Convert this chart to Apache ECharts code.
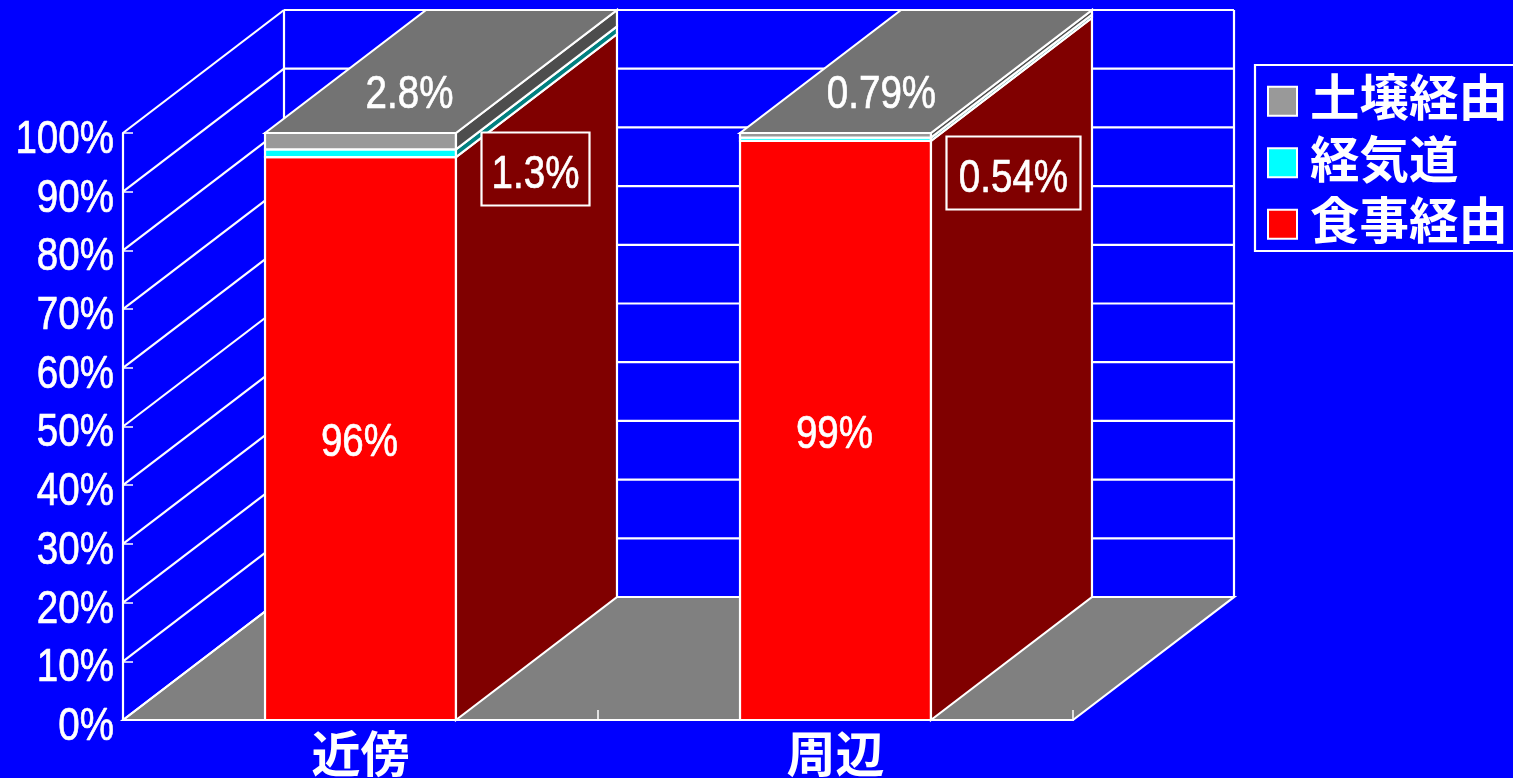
<!DOCTYPE html>
<html>
<head>
<meta charset="utf-8">
<title>経路別寄与率</title>
<style>html,body{margin:0;padding:0;background:#0000ff;overflow:hidden}#chart{width:1513px;height:778px}</style>
<script src="https://cdn.jsdelivr.net/npm/echarts@6/dist/echarts.min.js"></script>
</head>
<body>
<div id="chart"></div>
<script>
// Percent shares per exposure route
const categories = ['近傍', '周辺'];
const dietary = [96, 99];      // 食事経由
const airway = [1.3, 0.54];    // 経気道
const soil = [2.8, 0.79];      // 土壌経由
const yTicks = [0, 10, 20, 30, 40, 50, 60, 70, 80, 90, 100];
const yTickLabels = yTicks.map(v => v + '%');

// Oblique projection used for the pseudo 3D box
const DEPTH_X = 161, DEPTH_Y = -123, BAR_RATIO = 0.402;
const LINE = '#ffffff', LINE_W = 2.2;
const NUM_FONT = '47px "Liberation Sans", Arial, sans-serif';
const NUM_SQUEEZE = 0.82;

// 100% stacking: each bar is normalised to its own total
const totals = categories.map((_, i) => dietary[i] + airway[i] + soil[i]);
function stackRows(values, below) {
  return categories.map((_, i) => {
    const start = below.reduce((s, arr) => s + arr[i], 0);
    return [i, start / totals[i] * 100, (start + values[i]) / totals[i] * 100];
  });
}

function squeezedText(text, x, y, align) {
  return {
    type: 'text', x, y, scaleX: NUM_SQUEEZE, silent: true,
    style: { text, x: 0, y: 0, fill: '#fff', stroke: '#fff', lineWidth: 0.7, font: NUM_FONT, align: align || 'center', verticalAlign: 'middle' }
  };
}

// Back wall, floor and the oblique grid lines
function renderFrame(params, api) {
  const v = api.value(1);
  const sys = params.coordSys;
  const y = api.coord([0, v])[1];
  const left = sys.x, right = sys.x + sys.width;
  const children = [];
  const seg = (x1, y1, x2, y2) => ({
    type: 'line', shape: { x1, y1, x2, y2 }, style: { stroke: LINE, lineWidth: LINE_W }
  });
  if (v === 0) {
    children.push({
      type: 'polygon',
      shape: { points: [[left, y], [left + DEPTH_X, y + DEPTH_Y], [right + DEPTH_X, y + DEPTH_Y], [right, y]] },
      style: { fill: '#808080', stroke: LINE, lineWidth: LINE_W }
    });
  }
  if (v === 100) {
    const floorY = api.coord([0, 0])[1] + DEPTH_Y;
    children.push(seg(left + DEPTH_X, y + DEPTH_Y, left + DEPTH_X, floorY));
    children.push(seg(right + DEPTH_X, y + DEPTH_Y, right + DEPTH_X, floorY));
  }
  children.push(seg(left, y, left + DEPTH_X, y + DEPTH_Y));
  children.push(seg(left + DEPTH_X, y + DEPTH_Y, right + DEPTH_X, y + DEPTH_Y));
  return { type: 'group', children };
}

// Axis text sits in front of the frame, so it is drawn in a later pass
function renderTickLabel(params, api) {
  const y = api.coord([0, api.value(1)])[1];
  return squeezedText(yTickLabels[params.dataIndex], params.coordSys.x - 9, y + 7, 'right');
}

function renderSegment(shades) {
  return function (params, api) {
    const i = api.value(0);
    const lo = api.coord([i, api.value(1)]);
    const hi = api.coord([i, api.value(2)]);
    const w = api.size([1, 0])[0] * BAR_RATIO;
    const x0 = lo[0] - w / 2, x1 = lo[0] + w / 2;
    const border = { stroke: LINE, lineWidth: LINE_W };
    const children = [
      { type: 'rect', shape: { x: x0, y: hi[1], width: w, height: lo[1] - hi[1] },
        style: Object.assign({ fill: api.visual('color') }, border) },
      { type: 'polygon',
        shape: { points: [[x1, lo[1]], [x1 + DEPTH_X, lo[1] + DEPTH_Y], [x1 + DEPTH_X, hi[1] + DEPTH_Y], [x1, hi[1]]] },
        style: Object.assign({ fill: shades.side }, border) }
    ];
    if (shades.top) {
      children.push({ type: 'polygon',
        shape: { points: [[x0, hi[1]], [x0 + DEPTH_X, hi[1] + DEPTH_Y], [x1 + DEPTH_X, hi[1] + DEPTH_Y], [x1, hi[1]]] },
        style: Object.assign({ fill: shades.top }, border) });
    }
    return { type: 'group', children };
  };
}

// Value captions: on the front face, on the top face and a boxed one on the side
function renderCaption(params, api) {
  const i = api.value(0);
  const base = api.coord([i, 0]);
  const top = api.coord([i, 100]);
  const redTop = api.coord([i, dietary[i] / totals[i] * 100]);
  const boxW = [108, 134][i], boxH = 73;
  const boxCx = base[0] + [175, 178][i], boxCy = top[1] + [36, 40][i];
  return {
    type: 'group',
    children: [
      squeezedText(dietary[i] + '%', base[0] - 1, (base[1] + redTop[1]) / 2 + 5),
      squeezedText(soil[i] + '%', base[0] + [49, 46][i], top[1] - 38),
      { type: 'rect', shape: { x: boxCx - boxW / 2, y: boxCy - boxH / 2, width: boxW, height: boxH },
        style: { fill: '#800000', stroke: LINE, lineWidth: LINE_W } },
      squeezedText(airway[i] + '%', boxCx, boxCy + 6)
    ]
  };
}

const chart = echarts.init(document.getElementById('chart'));
const silent = { silent: true, animation: false, coordinateSystem: 'cartesian2d', clip: false };
chart.setOption({
  backgroundColor: '#0000ff',
  animation: false,
  tooltip: { show: false },
  grid: { left: 123, top: 133, width: 950, height: 588 },
  graphic: [{
    // Frame round the legend; it runs off the right edge of the page
    type: 'rect', z: 0, silent: true,
    shape: { x: 1255, y: 65, width: 300, height: 186 },
    style: { fill: 'none', stroke: LINE, lineWidth: LINE_W }
  }],
  legend: {
    left: 1267, top: 72.5, orient: 'vertical', icon: 'rect',
    data: ['土壌経由', '経気道', '食事経由'],
    itemWidth: 29, itemHeight: 29, itemGap: 4,
    padding: 0,
    selectedMode: false,
    itemStyle: { borderColor: LINE, borderWidth: 2 },
    formatter: '{t|{name}}',
    textStyle: {
      rich: {
        t: { color: '#fff', fontFamily: '"Noto Sans CJK JP", sans-serif', fontWeight: 'bold', fontSize: 49.5, lineHeight: 50, padding: [0, 0, 8, 8] }
      }
    }
  },
  xAxis: {
    type: 'category', data: categories, boundaryGap: true, z: 2,
    axisLine: { lineStyle: { color: LINE, width: LINE_W } },
    axisTick: { show: true, inside: true, length: 10, alignWithLabel: false, lineStyle: { color: LINE, width: 1.5 } },
    axisLabel: { color: '#fff', fontFamily: '"Noto Sans CJK JP", sans-serif', fontWeight: 'bold', fontSize: 49, margin: 9 }
  },
  yAxis: {
    type: 'value', min: 0, max: 100, interval: 10, z: 2,
    splitLine: { show: false },
    axisLine: { show: true, lineStyle: { color: LINE, width: LINE_W } },
    axisTick: { show: true, inside: true, length: 10, lineStyle: { color: LINE, width: 1.5 } },
    axisLabel: { show: false }
  },
  series: [
    Object.assign({ type: 'custom', name: 'frame', z: 1, encode: { x: 0, y: 1 },
      renderItem: renderFrame, data: yTicks.map(t => [0, t]) }, silent),
    Object.assign({ type: 'custom', name: '食事経由', z: 3, itemStyle: { color: '#ff0000' }, encode: { x: 0, y: [1, 2] },
      renderItem: renderSegment({ side: '#800000' }), data: stackRows(dietary, []) }, silent),
    Object.assign({ type: 'custom', name: '経気道', z: 4, itemStyle: { color: '#00ffff' }, encode: { x: 0, y: [1, 2] },
      renderItem: renderSegment({ side: '#008080' }), data: stackRows(airway, [dietary]) }, silent),
    Object.assign({ type: 'custom', name: '土壌経由', z: 5, itemStyle: { color: '#999999' }, encode: { x: 0, y: [1, 2] },
      renderItem: renderSegment({ side: '#4d4d4d', top: '#737373' }), data: stackRows(soil, [dietary, airway]) }, silent),
    Object.assign({ type: 'custom', name: 'captions', z: 6, encode: { x: 0, y: 1 },
      renderItem: renderCaption, data: categories.map((_, i) => [i, 0]) }, silent),
    Object.assign({ type: 'custom', name: 'ticks', z: 6, encode: { x: 0, y: 1 },
      renderItem: renderTickLabel, data: yTicks.map(t => [0, t]) }, silent)
  ]
});
</script>
</body>
</html>
